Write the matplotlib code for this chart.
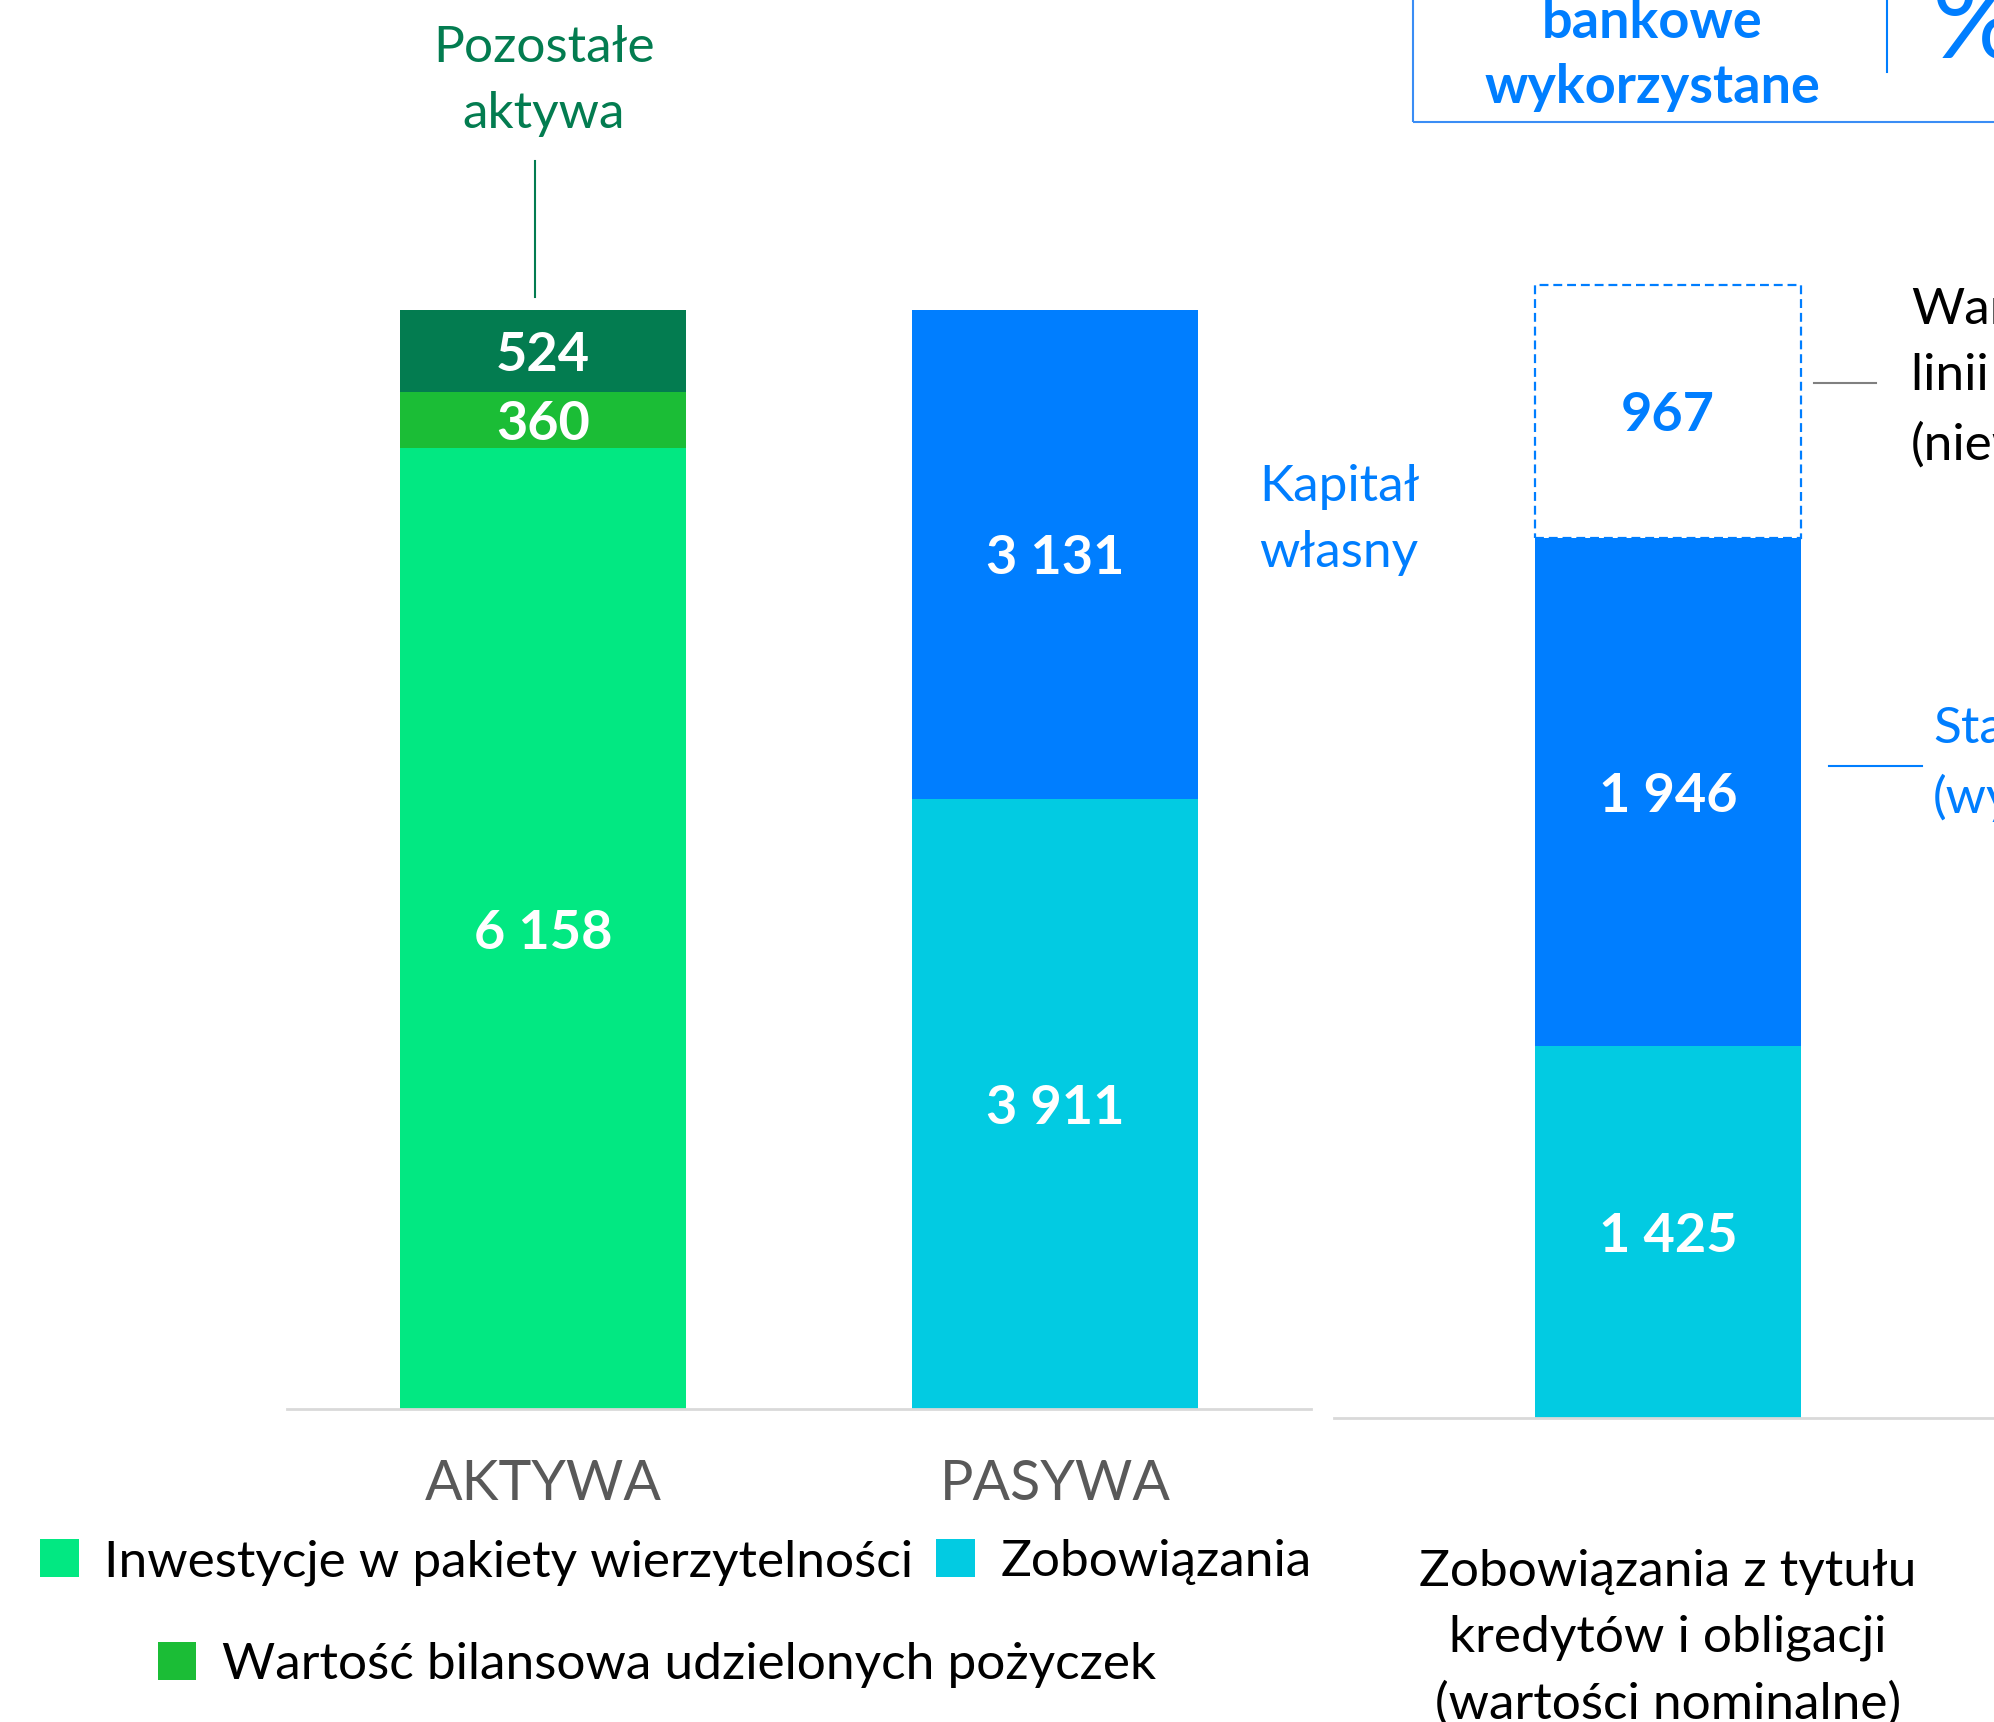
import matplotlib
matplotlib.use('Agg')
import matplotlib.pyplot as plt
from matplotlib.lines import Line2D
from matplotlib.patches import Rectangle

plt.rcParams['font.family'] = ['Lato', 'DejaVu Sans']

# dane
kategorie = ['AKTYWA', 'PASYWA']
inwestycje = [6158, 0]          # Inwestycje w pakiety wierzytelnosci
pozyczki = [360, 0]             # Wartosc bilansowa udzielonych pozyczek
pozostale = [524, 0]            # Pozostale aktywa
zobowiazania = [0, 3911]
kapital = [0, 3131]

kredyty_zobowiazania = [1425]
kredyty_wykorzystane = [1946]
kredyty_niewykorzystane = [967]

# kolory
c_inw = '#02E882'
c_poz = '#1BBD36'
c_pozost = '#037C50'
c_zob = '#02CBE2'
c_kap = '#007EFF'
c_os = '#D9D9D9'

FS = 37      # zwykly tekst
LS = 1.55    # odstep wierszy

W, H = 1994, 1722
def fx(px): return px / W
def fy(py): return 1 - py / H

def fmt(v):
    return f'{v:,}'.replace(',', ' ')

fig = plt.figure(figsize=(W / 100, H / 100), dpi=100)

#-----------------------------------
#   bilans (aktywa / pasywa)
#-----------------------------------
ax1 = fig.add_axes([fx(287), fy(1409), (1311 - 287) / W, 1409 / H])
x = [0, 1]
w = 0.56
b1 = ax1.bar(x, inwestycje, w, color=c_inw, lw=0)
b2 = ax1.bar(x, pozyczki, w, bottom=inwestycje, color=c_poz, lw=0)
dol3 = [a + b for a, b in zip(inwestycje, pozyczki)]
b3 = ax1.bar(x, pozostale, w, bottom=dol3, color=c_pozost, lw=0)
b4 = ax1.bar(x, zobowiazania, w, color=c_zob, lw=0)
b5 = ax1.bar(x, kapital, w, bottom=zobowiazania, color=c_kap, lw=0)

for bars in [b1, b2, b3, b4, b5]:
    for r in bars:
        if r.get_height() > 0:
            ax1.text(r.get_x() + r.get_width() / 2, r.get_y() + r.get_height() / 2,
                     fmt(int(r.get_height())), ha='center', va='center_baseline',
                     color='white', fontsize=39, fontweight='bold')

ax1.set_xlim(-0.5, 1.5)
ax1.set_ylim(0, 9030)
ax1.set_xticks(x, kategorie)
ax1.tick_params(axis='x', length=0, pad=36, labelsize=40, labelcolor='#595959')
ax1.set_yticks([])
for s in ['top', 'left', 'right']:
    ax1.spines[s].set_visible(False)
ax1.spines['bottom'].set_color(c_os)
ax1.spines['bottom'].set_linewidth(2)
ax1.patch.set_alpha(0)

#-----------------------------------
#   kredyty i obligacje
#-----------------------------------
ax2 = fig.add_axes([fx(1334), fy(1418), (W - 1334) / W, 1418 / H])
w2 = 0.52
k1 = ax2.bar(0, kredyty_zobowiazania, w2, color=c_zob, lw=0)
k2 = ax2.bar(0, kredyty_wykorzystane, w2, bottom=kredyty_zobowiazania, color=c_kap, lw=0)
dol = [kredyty_zobowiazania[0] + kredyty_wykorzystane[0]]
k3 = ax2.bar(0, kredyty_niewykorzystane, w2, bottom=dol, fill=False,
             edgecolor=c_kap, linewidth=1.6, linestyle=(0, (4, 2.2)))

for bars, col in [(k1, 'white'), (k2, 'white'), (k3, c_kap)]:
    r = bars[0]
    ax2.text(r.get_x() + r.get_width() / 2, r.get_y() + r.get_height() / 2,
             fmt(int(r.get_height())), ha='center', va='center_baseline',
             color=col, fontsize=39, fontweight='bold')

ax2.set_xlim(-0.652, 0.637)
ax2.set_ylim(0, 5429)
ax2.set_xticks([])
ax2.set_yticks([])
for s in ['top', 'left', 'right']:
    ax2.spines[s].set_visible(False)
ax2.spines['bottom'].set_color(c_os)
ax2.spines['bottom'].set_linewidth(2)
ax2.patch.set_alpha(0)
ax2.text(0, -0.1555, 'Zobowiązania z tytułu\nkredytów i obligacji\n(wartości nominalne)',
         transform=ax2.get_xaxis_transform(), ha='center', va='center',
         fontsize=FS, linespacing=1.53, color='black')

#-----------------------------------
#   opisy
#-----------------------------------
fig.text(fx(544), fy(81), 'Pozostałe\naktywa', ha='center', va='center',
         fontsize=FS, color=c_pozost, linespacing=LS)
fig.add_artist(Line2D([fx(535)] * 2, [fy(161), fy(297)], color=c_pozost, lw=1.5))

fig.text(fx(1259), fy(520), 'Kapitał\nwłasny', ha='left', va='center',
         fontsize=FS, color=c_kap, linespacing=LS)

fig.text(fx(1911), fy(378), 'Wartość\nlinii kredytowych\n(niewykorzystane)', ha='left',
         va='center', fontsize=FS, color='black', linespacing=LS)
fig.add_artist(Line2D([fx(1814), fx(1876)], [fy(383)] * 2, color='#808080', lw=1.5))

fig.text(fx(1933), fy(764), 'Stan\n(wykorzystane)', ha='left', va='center',
         fontsize=FS, color=c_kap, linespacing=LS)
fig.add_artist(Line2D([fx(1829), fx(1922)], [fy(766)] * 2, color=c_kap, lw=1.5))

# ramka u gory
fig.add_artist(Rectangle((fx(1413), fy(122)), 1, 1, fill=False, edgecolor='#3A8DF5',
                         lw=1.5, transform=fig.transFigure))
fig.text(fx(1652), fy(55), 'bankowe\nwykorzystane', ha='center', va='center',
         fontsize=39, fontweight='bold', color=c_kap, linespacing=1.38)
fig.add_artist(Line2D([fx(1887)] * 2, [fy(0), fy(72)], color=c_kap, lw=1.5))
fig.text(fx(1932), fy(58), '%', ha='left', va='baseline', fontsize=82, color=c_kap)

# legenda
fig.legend(handles=[b1, b4], labels=['Inwestycje w pakiety wierzytelności', 'Zobowiązania'],
           loc='upper center', bbox_to_anchor=(fx(676), fy(1539)), ncol=2, frameon=False,
           fontsize=FS, handlelength=0.75, handleheight=0.75, handletextpad=0.5,
           columnspacing=0.45, borderpad=0, borderaxespad=0)
fig.legend(handles=[b2], labels=['Wartość bilansowa udzielonych pożyczek'],
           loc='upper center', bbox_to_anchor=(fx(657), fy(1642)), frameon=False,
           fontsize=FS, handlelength=0.75, handleheight=0.75, handletextpad=0.5,
           borderpad=0, borderaxespad=0)

fig.savefig('out.png', dpi=100)
